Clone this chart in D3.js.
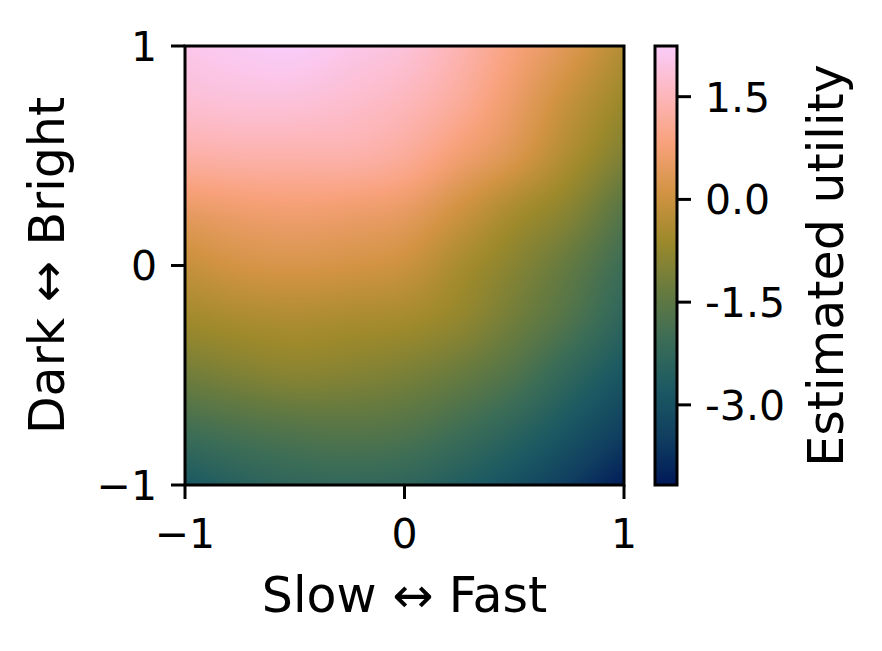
<!DOCTYPE html>
<html>
<head>
<meta charset="utf-8">
<script src="https://cdn.jsdelivr.net/npm/d3@7"></script>
<style>
  html, body { margin: 0; padding: 0; background: #fff; }
  svg text { font-family: "DejaVu Sans", sans-serif; fill: #000; }
</style>
</head>
<body>
<svg id="chart" width="882" height="651"></svg>
<script>
// ---- data ----
const gridX = [-1, -0.75, -0.5, -0.25, 0, 0.25, 0.5, 0.75, 1];
const gridY = [1, 0.75, 0.5, 0.25, 0, -0.25, -0.5, -0.75, -1];
// estimated utility, rows follow gridY (top to bottom), columns follow gridX
const utility = [
  [ 2.05,  2.18,  2.24,  2.05,  1.86,  1.41,  0.83,  0.32, -0.32],
  [ 1.79,  1.86,  1.86,  1.73,  1.53,  1.15,  0.57, -0.07, -0.65],
  [ 1.28,  1.34,  1.34,  1.34,  1.15,  0.70,  0.25, -0.39, -1.03],
  [ 0.51,  0.64,  0.70,  0.64,  0.51,  0.06, -0.45, -0.90, -1.61],
  [-0.07,  0.13,  0.19,  0.13,  0.00, -0.45, -0.90, -1.41, -2.05],
  [-0.58, -0.45, -0.39, -0.45, -0.52, -0.77, -1.22, -1.73, -2.38],
  [-1.22, -1.03, -0.90, -0.96, -1.09, -1.35, -1.73, -2.31, -2.89],
  [-1.99, -1.80, -1.67, -1.61, -1.70, -1.99, -2.38, -2.89, -3.46],
  [-2.82, -2.50, -2.31, -2.25, -2.34, -2.63, -3.02, -3.53, -4.11]
];
const colorDomain = [-4.17, 2.24];
const xTicks = [-1, 0, 1];
const yTicks = [-1, 0, 1];
const cbTicks = [1.5, 0.0, -1.5, -3.0];
const xLabel = "Slow \u2194 Fast";
const yLabel = "Dark \u2194 Bright";
const cbLabel = "Estimated utility";
// batlow colormap anchor colours
const batlow = ["#011959", "#103F60", "#1C5A62", "#3C6D56", "#687B3E",
                "#9D892B", "#D29343", "#F8A17B", "#FDB7BC", "#FACCFA"];

// ---- layout ----
const plot = { left: 185, top: 46, size: 439 };
const cb = { left: 655, top: 46, width: 22, height: 439 };
const tickLen = 14, tickPad = 14, lw = 3;
const tickFont = 41, labelFont = 49;

const svg = d3.select("#chart");
const x = d3.scaleLinear().domain([-1, 1]).range([plot.left, plot.left + plot.size]);
const y = d3.scaleLinear().domain([-1, 1]).range([plot.top + plot.size, plot.top]);

const tScale = d3.scaleLinear().domain(colorDomain).range([0, 1]).clamp(true);
const cmap = d3.scaleLinear()
  .domain(batlow.map((_, i) => i / (batlow.length - 1)))
  .range(batlow)
  .interpolate(d3.interpolateRgb);
const color = v => cmap(tScale(v));

// grid index scales
const gi = d3.scaleLinear().domain([gridX[0], gridX[gridX.length - 1]]).range([0, gridX.length - 1]);
const gj = d3.scaleLinear().domain([gridY[0], gridY[gridY.length - 1]]).range([0, gridY.length - 1]);

function cell(r, c) {
  const n = gridY.length, m = gridX.length;
  // linear extrapolation beyond edges
  if (r < 0) return 2 * cell(0, c) - cell(1, c);
  if (r > n - 1) return 2 * cell(n - 1, c) - cell(n - 2, c);
  if (c < 0) return 2 * cell(r, 0) - cell(r, 1);
  if (c > m - 1) return 2 * cell(r, m - 1) - cell(r, m - 2);
  return utility[r][c];
}
function cr(p0, p1, p2, p3, t) {
  return 0.5 * (2 * p1 + (-p0 + p2) * t + (2 * p0 - 5 * p1 + 4 * p2 - p3) * t * t + (-p0 + 3 * p1 - 3 * p2 + p3) * t * t * t);
}
function sample(dx, dy) {
  const fi = gi(dx), fj = gj(dy);
  let c = Math.min(Math.floor(fi), gridX.length - 2), r = Math.min(Math.floor(fj), gridY.length - 2);
  const tx = fi - c, ty = fj - r;
  const rows = [];
  for (let k = -1; k <= 2; k++) {
    rows.push(cr(cell(r + k, c - 1), cell(r + k, c), cell(r + k, c + 1), cell(r + k, c + 2), tx));
  }
  return cr(rows[0], rows[1], rows[2], rows[3], ty);
}

// ---- heatmap as raster ----
const N = plot.size;
const canvas = document.createElement("canvas");
canvas.width = N; canvas.height = N;
const ctx = canvas.getContext("2d");
const img = ctx.createImageData(N, N);
for (let py = 0; py < N; py++) {
  const dy = y.invert(plot.top + py + 0.5);
  for (let px = 0; px < N; px++) {
    const dx = x.invert(plot.left + px + 0.5);
    const c = d3.rgb(color(sample(dx, dy)));
    const o = (py * N + px) * 4;
    img.data[o] = c.r; img.data[o + 1] = c.g; img.data[o + 2] = c.b; img.data[o + 3] = 255;
  }
}
ctx.putImageData(img, 0, 0);
svg.append("image")
  .attr("x", plot.left).attr("y", plot.top)
  .attr("width", plot.size).attr("height", plot.size)
  .attr("preserveAspectRatio", "none")
  .attr("href", canvas.toDataURL());

svg.append("rect")
  .attr("x", plot.left).attr("y", plot.top)
  .attr("width", plot.size).attr("height", plot.size)
  .attr("fill", "none").attr("stroke", "#000").attr("stroke-width", lw);

const fmtAxis = d => (d < 0 ? "\u2212" + Math.abs(d) : String(d));

// x axis
const xa = svg.append("g");
xa.selectAll("line").data(xTicks).join("line")
  .attr("x1", d => x(d)).attr("x2", d => x(d))
  .attr("y1", plot.top + plot.size).attr("y2", plot.top + plot.size + tickLen)
  .attr("stroke", "#000").attr("stroke-width", lw);
xa.selectAll("text").data(xTicks).join("text")
  .attr("x", d => x(d)).attr("y", 548)
  .attr("text-anchor", "middle").attr("font-size", tickFont)
  .text(fmtAxis);

// y axis
const ya = svg.append("g");
ya.selectAll("line").data(yTicks).join("line")
  .attr("x1", plot.left - tickLen).attr("x2", plot.left)
  .attr("y1", d => y(d)).attr("y2", d => y(d))
  .attr("stroke", "#000").attr("stroke-width", lw);
ya.selectAll("text").data(yTicks).join("text")
  .attr("x", plot.left - tickLen - tickPad).attr("y", d => y(d) + 0.365 * tickFont)
  .attr("text-anchor", "end").attr("font-size", tickFont)
  .text(fmtAxis);

svg.append("text")
  .attr("x", x(0)).attr("y", 612)
  .attr("text-anchor", "middle").attr("font-size", labelFont)
  .text(xLabel);
svg.append("text")
  .attr("transform", `translate(64,${y(0)}) rotate(-90)`)
  .attr("text-anchor", "middle").attr("font-size", labelFont)
  .text(yLabel);

// ---- colorbar ----
const cy = d3.scaleLinear().domain(colorDomain).range([cb.top + cb.height, cb.top]);
const defs = svg.append("defs");
const grad = defs.append("linearGradient").attr("id", "cbgrad")
  .attr("x1", 0).attr("y1", 1).attr("x2", 0).attr("y2", 0);
grad.selectAll("stop").data(d3.range(0, 1.0001, 1 / 64)).join("stop")
  .attr("offset", d => d)
  .attr("stop-color", d => cmap(d));
svg.append("rect")
  .attr("x", cb.left).attr("y", cy(colorDomain[1]))
  .attr("width", cb.width).attr("height", cy(colorDomain[0]) - cy(colorDomain[1]))
  .attr("fill", "url(#cbgrad)")
  .attr("stroke", "#000").attr("stroke-width", lw);

const ca = svg.append("g");
ca.selectAll("line").data(cbTicks).join("line")
  .attr("x1", cb.left + cb.width).attr("x2", cb.left + cb.width + tickLen)
  .attr("y1", d => cy(d)).attr("y2", d => cy(d))
  .attr("stroke", "#000").attr("stroke-width", lw);
ca.selectAll("text").data(cbTicks).join("text")
  .attr("x", cb.left + cb.width + tickLen + tickPad).attr("y", d => cy(d) + 0.365 * tickFont)
  .attr("text-anchor", "start").attr("font-size", tickFont)
  .text(d => d.toFixed(1));

svg.append("text")
  .attr("transform", `translate(843,${cb.top + cb.height / 2}) rotate(-90)`)
  .attr("text-anchor", "middle").attr("font-size", labelFont)
  .text(cbLabel);
</script>
</body>
</html>
